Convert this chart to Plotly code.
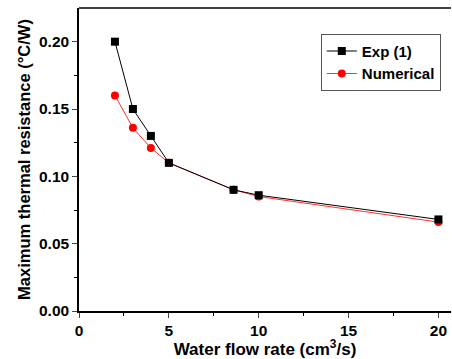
import plotly.graph_objects as go

flow = [2, 3, 4, 5, 8.6, 10, 20]
exp1 = [0.200, 0.150, 0.130, 0.110, 0.090, 0.086, 0.068]
numerical = [0.160, 0.136, 0.121, 0.110, 0.090, 0.085, 0.066]

fig = go.Figure()
fig.add_trace(go.Scatter(x=flow, y=numerical, name="Numerical", mode="lines+markers",
                         line=dict(color="#ff3030", width=1),
                         marker=dict(symbol="circle", size=8, color="#ff0000")))
fig.add_trace(go.Scatter(x=flow, y=exp1, name="Exp (1)", mode="lines+markers",
                         line=dict(color="#000000", width=1),
                         marker=dict(symbol="square", size=8, color="#000000")))

FAM = "Liberation Sans"
fig.update_layout(
    width=452, height=359,
    margin=dict(l=79, r=1, t=8, b=48),
    paper_bgcolor="white", plot_bgcolor="white",
    showlegend=True,
    legend=dict(x=0.65, y=0.915, xanchor="left", yanchor="top",
                traceorder="reversed",
                bordercolor="#555555", borderwidth=1, bgcolor="white",
                font=dict(family=FAM, size=15, color="black", weight="bold"),
                itemwidth=30, tracegroupgap=0),
    xaxis=dict(range=[0, 20.7], tickvals=[0, 5, 10, 15, 20], ticks="outside", ticklen=5,
               showgrid=False, zeroline=False, showline=True, linecolor="black", linewidth=1.5,
               minor=dict(tickvals=[2.5, 7.5, 12.5, 17.5], ticks="outside", ticklen=3, tickcolor="black"),
               tickfont=dict(family=FAM, size=15.5, color="black", weight="bold"),
               title=dict(text="Water flow rate (cm<sup>3</sup>/s)", standoff=3,
                          font=dict(family=FAM, size=17, color="black", weight="bold"))),
    yaxis=dict(range=[0, 0.225], tickvals=[0, 0.05, 0.10, 0.15, 0.20], tickformat=".2f",
               ticks="outside", ticklen=5,
               showgrid=False, zeroline=False, showline=True, linecolor="black", linewidth=1.5,
               minor=dict(tickvals=[0.025, 0.075, 0.125, 0.175], ticks="outside", ticklen=3, tickcolor="black"),
               tickfont=dict(family=FAM, size=15.5, color="black", weight="bold"),
               title=dict(text="Maximum thermal resistance (°C/W)", standoff=4,
                          font=dict(family=FAM, size=16.5, color="black", weight="bold"))),
)
fig.add_shape(type="line", xref="paper", yref="paper", x0=0, x1=1, y0=1, y1=1,
              line=dict(color="black", width=1.5))
fig.write_html("out.html")
